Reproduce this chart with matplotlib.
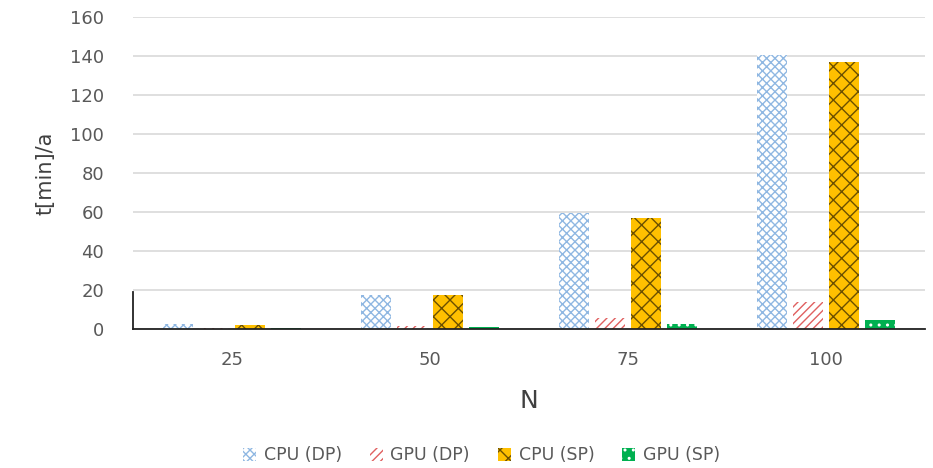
import matplotlib
matplotlib.use("Agg")
import matplotlib.pyplot as plt
import numpy as np

# Runtime per simulated year for different problem sizes
categories = ["25", "50", "75", "100"]
cpu_dp = [2.5, 17.4, 59.5, 140.5]
gpu_dp = [0.6, 1.5, 5.6, 13.8]
cpu_sp = [2.2, 17.4, 57.0, 137.0]
gpu_sp = [0.3, 1.0, 2.5, 4.6]
series_labels = ["CPU (DP)", "GPU (DP)", "CPU (SP)", "GPU (SP)"]
y_ticks = [0, 20, 40, 60, 80, 100, 120, 140, 160]

plt.rcParams["font.family"] = ["DejaVu Sans"]
plt.rcParams["hatch.linewidth"] = 1.0

fig = plt.figure(figsize=(9.33, 4.68), dpi=100)
ax = fig.add_axes([0.1426, 0.297, 0.8488, 0.667])

x = np.arange(len(categories))
w = 0.152
step = 0.182
offsets = np.array([-1.5, -0.5, 0.5, 1.5]) * step

styles = [
    dict(facecolor="white", edgecolor="#8FB7E2", hatch="xxxx"),
    dict(facecolor="white", edgecolor="#E06060", hatch="////"),
    dict(facecolor="#FFC000", edgecolor="#6B5000", hatch="xx"),
    dict(facecolor="#00B050", edgecolor="white", hatch=".."),
]
data = [cpu_dp, gpu_dp, cpu_sp, gpu_sp]

handles = []
for vals, off, st, lab in zip(data, offsets, styles, series_labels):
    b = ax.bar(x + off, vals, w, linewidth=0, label=lab, zorder=3, **st)
    handles.append(b)

ax.set_xlim(-0.5, len(categories) - 0.5)
ax.set_ylim(0, 160)
ax.set_yticks(y_ticks)
ax.set_xticks(x)
ax.set_xticklabels(categories)
ax.grid(axis="y", color="#D9D9D9", linewidth=1.2, zorder=0)
ax.set_axisbelow(True)

for s in ["top", "right", "left"]:
    ax.spines[s].set_visible(False)
ax.spines["bottom"].set_color("#222222")
ax.spines["bottom"].set_linewidth(1.3)
ax.spines["bottom"].set_zorder(4)

# short left edge segment near the baseline
ax.plot([0, 0], [0, 0.12], transform=ax.transAxes, color="#222222",
        linewidth=1.3, clip_on=False, zorder=4)

ax.tick_params(axis="both", length=0, labelsize=13, labelcolor="#595959")
ax.tick_params(axis="x", pad=16)
ax.tick_params(axis="y", pad=21)

ax.set_ylabel("t[min]/a", fontsize=15, color="#404040", labelpad=10)
ax.set_xlabel("N", fontsize=18, color="#404040", labelpad=14)

leg = fig.legend(handles=handles, labels=series_labels, loc="center",
                 bbox_to_anchor=(0.516, 0.027), ncol=4, frameon=False,
                 fontsize=12.5, handlelength=0.75, handleheight=0.75,
                 handletextpad=0.45, columnspacing=1.6)
for t in leg.get_texts():
    t.set_color("#595959")

fig.savefig("out.png", dpi=100)
